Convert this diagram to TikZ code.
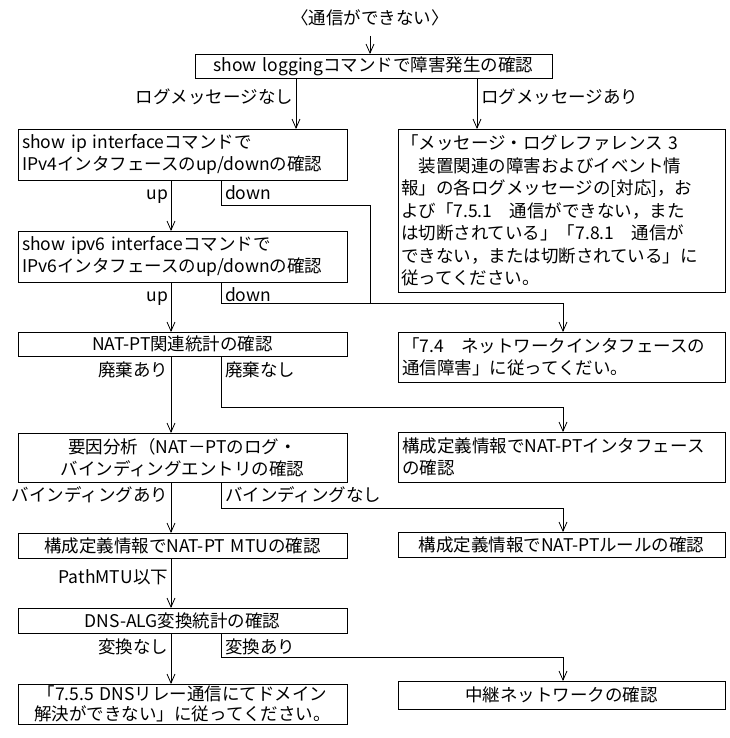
\documentclass[tikz,border=0pt]{standalone}
\usepackage{fontspec}
\setmainfont{Noto Sans CJK JP}
\usetikzlibrary{arrows.meta}
\begin{document}
\begin{tikzpicture}[x=1pt,y=-1pt,
  font=\fontsize{17.5}{22.5}\selectfont,
  bx/.style={draw, line width=0.9pt, inner xsep=4pt, inner ysep=0pt, outer sep=0pt},
  lbox/.style={bx, text width=321pt},
  rbox/.style={bx, text width=319pt},
  lbl/.style={inner sep=0pt, outer sep=0pt, text height=13pt, text depth=3.5pt, yshift=-2pt},
  ln/.style={line width=0.9pt},
  ar/.style={ln, -{Straight Barb[length=9pt,width=8pt,line width=0.8pt]}}]
\useasboundingbox (0,0) rectangle (729,738);
% columns and rows
\coordinate (cA) at (296,0);
\coordinate (cB) at (477,0);
\coordinate (cL) at (171,0);
\coordinate (cD) at (221,0);
\coordinate (cM) at (370,0);
\coordinate (cR) at (563,0);
\coordinate (h1) at (0,205);
\coordinate (hm) at (0,303);
\coordinate (h2) at (0,407);
\coordinate (h3) at (0,508);
\coordinate (h4) at (0,657);
\coordinate (ts) at (370,36);
% nodes
\node[lbl] (t) at (370,18) {〈通信ができない〉};
\node[bx, minimum height=24pt, text width=349pt, align=center] (b1) at (373.5,66) {show loggingコマンドで障害発生の確認};
\node[lbox, minimum height=51pt, align=left] (b2) at (182.5,154.5) {show ip interfaceコマンドで\\IPv4インタフェースのup/downの確認};
\node[rbox, minimum height=163pt, align=left, inner xsep=3pt, text width=321pt] (r1) at (561.5,210.5) {「メッセージ・ログレファレンス 3\\　装置関連の障害およびイベント情\\報」の各ログメッセージの[対応]，お\\よび「7.5.1　通信ができない，また\\は切断されている」「7.8.1　通信が\\できない，または切断されている」に\\従ってください。};
\node[lbox, minimum height=51pt, align=left] (b3) at (182.5,256.5) {show ipv6 interfaceコマンドで\\IPv6インタフェースのup/downの確認};
\node[lbox, minimum height=24pt, align=center] (b4) at (182.5,344) {NAT-PT関連統計の確認};
\node[rbox, minimum height=50pt, align=left] (r2) at (561.5,357) {「7.4　ネットワークインタフェースの\\通信障害」に従ってくだい。};
\node[lbox, minimum height=49pt, align=center] (b5) at (182.5,457.5) {要因分析（NAT－PTのログ・\\バインディングエントリの確認};
\node[rbox, minimum height=50pt, align=left] (r3) at (561.5,457) {構成定義情報でNAT-PTインタフェース\\の確認};
\node[lbox, minimum height=25pt, align=center] (b6) at (182.5,545.5) {構成定義情報でNAT-PT MTUの確認};
\node[rbox, minimum height=25pt, align=center] (r4) at (561.5,544.5) {構成定義情報でNAT-PTルールの確認};
\node[lbox, minimum height=25pt, align=center] (b7) at (182.5,620.5) {DNS-ALG変換統計の確認};
\node[lbox, minimum height=40pt, align=center, font=\fontsize{17.5}{20}\selectfont] (b8) at (182.5,704) {「7.5.5 DNSリレー通信にてドメイン\\解決ができない」に従ってください。};
\node[rbox, minimum height=28pt, align=center] (r5) at (561.5,695) {中継ネットワークの確認};
% labels
\node[lbl, anchor=east] at (293,97) {ログメッセージなし};
\node[lbl, anchor=west] at (481,97) {ログメッセージあり};
\node[lbl, anchor=east] at (168,193) {up};
\node[lbl, anchor=west] at (225,193) {down};
\node[lbl, anchor=east] at (168,295) {up};
\node[lbl, anchor=west] at (225,295) {down};
\node[lbl, anchor=east] at (168,370) {廃棄あり};
\node[lbl, anchor=west] at (225,370) {廃棄なし};
\node[lbl, anchor=east] at (168,495) {バインディングあり};
\node[lbl, anchor=west] at (225,495) {バインディングなし};
\node[lbl, anchor=east] at (168,577) {PathMTU以下};
\node[lbl, anchor=east] at (168,647) {変換なし};
\node[lbl, anchor=west] at (225,647) {変換あり};
% connectors
\draw[ar] (ts) -- (cM |- b1.north);
\draw[ar] (cA |- b1.south) -- (cA |- b2.north);
\draw[ar] (cB |- b1.south) -- (cB |- r1.north);
\draw[ar] (cL |- b2.south) -- (cL |- b3.north);
\draw[ln] (cD |- b2.south) -- (cD |- h1) -- (cM |- h1) -- (cM |- hm);
\draw[ar] (cD |- b3.south) -- (cD |- hm) -- (cR |- hm) -- (cR |- r2.north);
\draw[ar] (cL |- b3.south) -- (cL |- b4.north);
\draw[ar] (cL |- b4.south) -- (cL |- b5.north);
\draw[ar] (cD |- b4.south) -- (cD |- h2) -- (cR |- h2) -- (cR |- r3.north);
\draw[ar] (cL |- b5.south) -- (cL |- b6.north);
\draw[ar] (cD |- b5.south) -- (cD |- h3) -- (cR |- h3) -- (cR |- r4.north);
\draw[ar] (cL |- b6.south) -- (cL |- b7.north);
\draw[ar] (cL |- b7.south) -- (cL |- b8.north);
\draw[ar] (cD |- b7.south) -- (cD |- h4) -- (cR |- h4) -- (cR |- r5.north);
\end{tikzpicture}
\end{document}
